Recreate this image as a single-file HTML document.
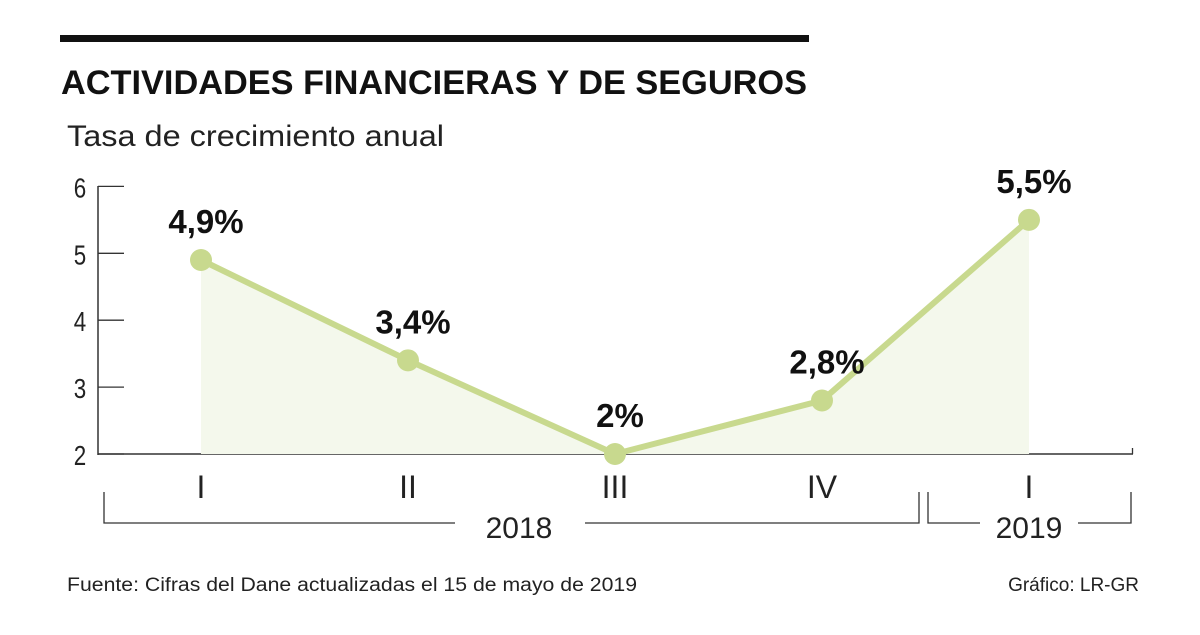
<!DOCTYPE html>
<html><head><meta charset="utf-8"><style>
body{margin:0;background:#fff;width:1200px;height:630px;overflow:hidden;font-family:"Liberation Sans",sans-serif}
</style></head><body>
<svg width="1200" height="630" font-family="Liberation Sans, sans-serif">
<rect x="60" y="35" width="749" height="7" fill="#111"/>
<text x="61" y="94" font-size="34" font-weight="bold" fill="#111" textLength="746" lengthAdjust="spacingAndGlyphs">ACTIVIDADES FINANCIERAS Y DE SEGUROS</text>
<text x="67" y="146" font-size="30" fill="#222" textLength="377" lengthAdjust="spacingAndGlyphs">Tasa de crecimiento anual</text>
<g id="yaxis"></g><g id="plot"></g>
<g stroke="#333" stroke-width="1.3" fill="none">
<path d="M104,492 V523 H455 M585,523 H919 V492"/>
<path d="M928,492 V523 H980 M1078,523 H1131 V492"/>
</g>
<text x="519" y="538" font-size="30" text-anchor="middle" fill="#222">2018</text>
<text x="1029" y="538" font-size="30" text-anchor="middle" fill="#222">2019</text>
<text x="67" y="591" font-size="19" fill="#222" textLength="570" lengthAdjust="spacingAndGlyphs">Fuente: Cifras del Dane actualizadas el 15 de mayo de 2019</text>
<text x="1139" y="591" font-size="19" fill="#222" text-anchor="end">Gráfico: LR-GR</text>
</svg>
<script>
const categories=["I","II","III","IV","I"];
const values=[4.9,3.4,2.0,2.8,5.5];
const valueLabels=["4,9%","3,4%","2%","2,8%","5,5%"];
const yTicks=[2,3,4,5,6];
const NS="http://www.w3.org/2000/svg";
const y=v=>454-(v-2)*66.9;
const x=i=>201+i*207;
function mk(t,a,p){const e=document.createElementNS(NS,t);for(const k in a)e.setAttribute(k,a[k]);p.appendChild(e);return e;}
const ya=document.getElementById('yaxis'),pl=document.getElementById('plot');
const ax=mk('line',{x1:98,y1:186,x2:98,y2:455,stroke:'#333','stroke-width':1.5},ya);


yTicks.forEach(t=>{
 const l=mk('line',{x1:98,y1:y(t),x2:124,y2:y(t),stroke:'#333','stroke-width':1.3},ya);
 
 
 const tx=mk('text',{x:80,y:y(t)+11,'font-size':28,'text-anchor':'middle',fill:'#222',transform:'translate(80,0) scale(0.8,1) translate(-80,0)'},ya);
 tx.textContent=t;
 
 
});
const base=mk('line',{x1:98,y1:454,x2:1133,y2:454,stroke:'#333','stroke-width':1.5},ya);


for(let i=1;i<=categories.length;i++){
 const bx=x(i)-103.5;
 const l=mk('line',{x1:bx,y1:448,x2:bx,y2:454,stroke:'#333','stroke-width':1.3},ya);
 
 
}
let d='M'+x(0)+',454';values.forEach((v,i)=>d+=' L'+x(i)+','+y(v));d+=' L'+x(values.length-1)+',454 Z';
const area=mk('path',{d:d,fill:'#f4f8ec'},pl);


const line=mk('polyline',{points:values.map((v,i)=>x(i)+','+y(v)).join(' '),fill:'none',stroke:'#c8d98e','stroke-width':6},pl);


values.forEach((v,i)=>{
 const c=mk('circle',{cx:x(i),cy:y(v),r:11,fill:'#c8d98e'},pl);
 
 
 const t=mk('text',{x:x(i)+5,y:y(v)-27,'font-size':33,'font-weight':'bold','text-anchor':'middle',fill:'#111'},pl);
 t.textContent=valueLabels[i];
 
 
 const c2=mk('text',{x:x(i),y:498,'font-size':32,'text-anchor':'middle',fill:'#222'},pl);
 c2.textContent=categories[i];
 
 
});
</script>
</body></html>
